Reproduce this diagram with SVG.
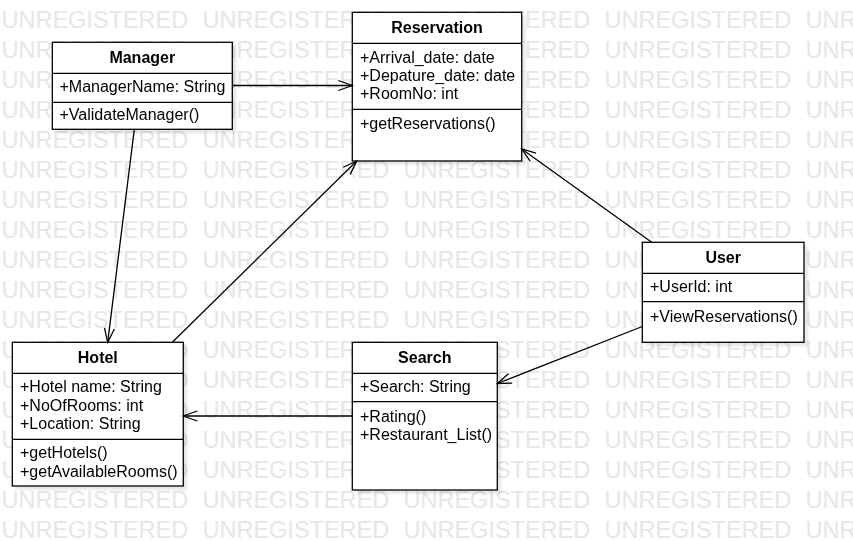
<svg xmlns="http://www.w3.org/2000/svg" xmlns:xlink="http://www.w3.org/1999/xlink" width="853" height="541" viewBox="0 0 853 541">
<style>
.wm{font-family:"Liberation Sans",Arial,sans-serif;font-size:23.5px;fill:#e6e6e6}
.box{fill:#fff;stroke:#000;stroke-width:1.3}
.sh{fill:#000;opacity:0.09}
.div{stroke:#000;stroke-width:1.3}
.t{font-family:"Liberation Sans",Arial,sans-serif;font-size:16px;font-weight:bold;text-anchor:middle;fill:#000}
.a{font-family:"Liberation Sans",Arial,sans-serif;font-size:16px;fill:#000}
.c{fill:none;stroke:#000;stroke-width:1.3}
</style>
<defs>
<marker id="open" markerUnits="userSpaceOnUse" markerWidth="20" markerHeight="14" viewBox="-16 -7 18 14" refX="0" refY="0" orient="auto">
<path d="M-14,-5 L0,0 L-14,5" fill="none" stroke="#000" stroke-width="1.3"/>
</marker>
<filter id="blur" x="-10%" y="-10%" width="120%" height="120%"><feGaussianBlur stdDeviation="1.2"/></filter>
<g id="wmrow">
<text class="wm" x="1.5" y="0">UNREGISTERED</text>
<text class="wm" x="202.5" y="0">UNREGISTERED</text>
<text class="wm" x="403.5" y="0">UNREGISTERED</text>
<text class="wm" x="604.5" y="0">UNREGISTERED</text>
<text class="wm" x="805.5" y="0">UNREGISTERED</text>
</g>
</defs>
<rect x="0" y="0" width="853" height="541" fill="#fff"/>
<g id="watermark">
<use xlink:href="#wmrow" y="28.3"/>
<use xlink:href="#wmrow" y="58.3"/>
<use xlink:href="#wmrow" y="88.3"/>
<use xlink:href="#wmrow" y="118.3"/>
<use xlink:href="#wmrow" y="148.3"/>
<use xlink:href="#wmrow" y="178.3"/>
<use xlink:href="#wmrow" y="208.3"/>
<use xlink:href="#wmrow" y="238.3"/>
<use xlink:href="#wmrow" y="268.3"/>
<use xlink:href="#wmrow" y="298.3"/>
<use xlink:href="#wmrow" y="328.3"/>
<use xlink:href="#wmrow" y="358.3"/>
<use xlink:href="#wmrow" y="388.3"/>
<use xlink:href="#wmrow" y="418.3"/>
<use xlink:href="#wmrow" y="448.3"/>
<use xlink:href="#wmrow" y="478.3"/>
<use xlink:href="#wmrow" y="508.3"/>
<use xlink:href="#wmrow" y="538.3"/>
</g>
<g id="shadows" filter="url(#blur)">
<rect class="sh" x="56.3" y="46.3" width="180" height="87"/>
<rect class="sh" x="356.3" y="16.3" width="169.4" height="148.7"/>
<rect class="sh" x="646.3" y="246.3" width="161.7" height="100"/>
<rect class="sh" x="16.3" y="346.3" width="171" height="143.7"/>
<rect class="sh" x="356.3" y="346.3" width="145" height="147.7"/>
</g>
<g id="Manager">
<rect class="box" x="52.3" y="42.3" width="180" height="87"/>
<line class="div" x1="52.3" y1="73.3" x2="232.3" y2="73.3"/>
<line class="div" x1="52.3" y1="102.3" x2="232.3" y2="102.3"/>
<text class="t" x="142.3" y="63.3">Manager</text>
<text class="a" x="59.5" y="92.3">+ManagerName: String</text>
<text class="a" x="59.5" y="120.3">+ValidateManager()</text>
</g>
<g id="Reservation">
<rect class="box" x="352.3" y="12.3" width="169.4" height="148.7"/>
<line class="div" x1="352.3" y1="43.3" x2="521.7" y2="43.3"/>
<line class="div" x1="352.3" y1="109.3" x2="521.7" y2="109.3"/>
<text class="t" x="437" y="33.3">Reservation</text>
<text class="a" x="360" y="63.3">+Arrival_date: date</text>
<text class="a" x="360" y="81.3">+Depature_date: date</text>
<text class="a" x="360" y="99.3">+RoomNo: int</text>
<text class="a" x="360" y="128.7">+getReservations()</text>
</g>
<g id="User">
<rect class="box" x="642.3" y="242.3" width="161.7" height="100"/>
<line class="div" x1="642.3" y1="273.3" x2="804" y2="273.3"/>
<line class="div" x1="642.3" y1="301.7" x2="804" y2="301.7"/>
<text class="t" x="723.2" y="263.3">User</text>
<text class="a" x="650" y="292.3">+UserId: int</text>
<text class="a" x="650" y="321.7">+ViewReservations()</text>
</g>
<g id="Hotel">
<rect class="box" x="12.3" y="342.3" width="171" height="143.7"/>
<line class="div" x1="12.3" y1="373.3" x2="183.3" y2="373.3"/>
<line class="div" x1="12.3" y1="439.3" x2="183.3" y2="439.3"/>
<text class="t" x="97.8" y="363.3">Hotel</text>
<text class="a" x="20" y="392.3">+Hotel name: String</text>
<text class="a" x="20" y="410.6">+NoOfRooms: int</text>
<text class="a" x="20" y="428.9">+Location: String</text>
<text class="a" x="20" y="458.3">+getHotels()</text>
<text class="a" x="20" y="476.7">+getAvailableRooms()</text>
</g>
<g id="Search">
<rect class="box" x="352.3" y="342.3" width="145" height="147.7"/>
<line class="div" x1="352.3" y1="373.3" x2="497.3" y2="373.3"/>
<line class="div" x1="352.3" y1="401.7" x2="497.3" y2="401.7"/>
<text class="t" x="424.8" y="363.3">Search</text>
<text class="a" x="360" y="392.3">+Search: String</text>
<text class="a" x="360" y="421.7">+Rating()</text>
<text class="a" x="360" y="440">+Restaurant_List()</text>
</g>
<g id="connectors">
<line class="c" x1="232.3" y1="85.5" x2="352.3" y2="85.5" marker-end="url(#open)"/>
<line class="c" x1="134.3" y1="129.3" x2="107.7" y2="342.3" marker-end="url(#open)"/>
<line class="c" x1="172.3" y1="342.3" x2="356.7" y2="161" marker-end="url(#open)"/>
<line class="c" x1="651.7" y1="242.3" x2="521.7" y2="149" marker-end="url(#open)"/>
<line class="c" x1="642.3" y1="326.5" x2="497.3" y2="383.5" marker-end="url(#open)"/>
<line class="c" x1="352.3" y1="416" x2="183.3" y2="416" marker-end="url(#open)"/>
</g>
</svg>
